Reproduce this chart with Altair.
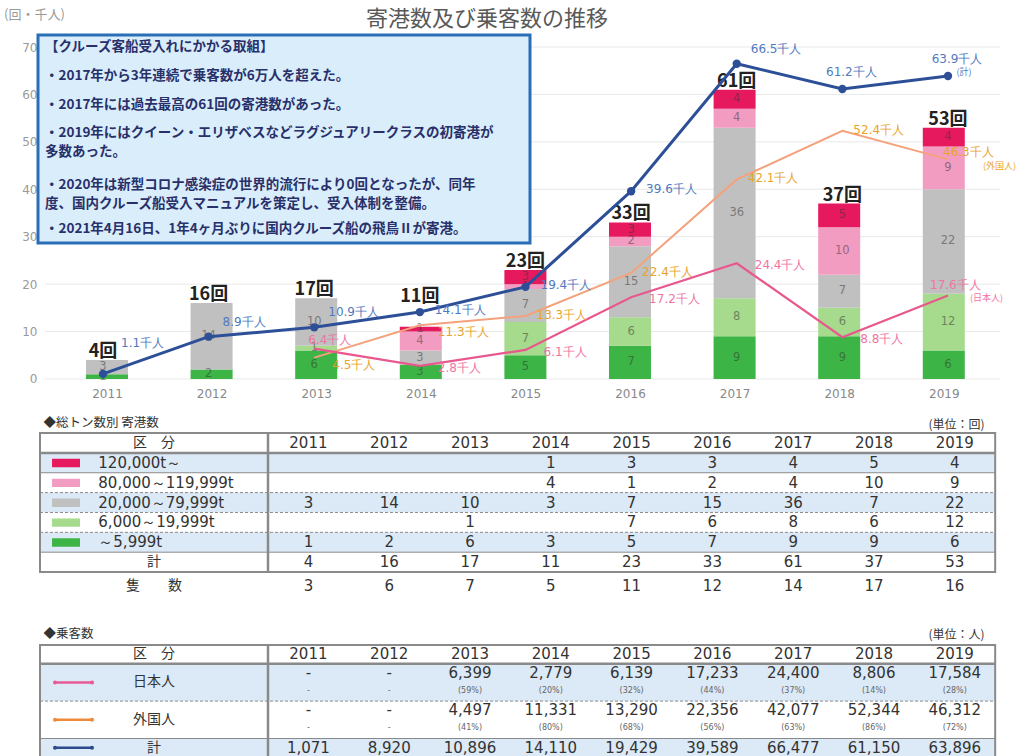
import altair as alt
import pandas as pd

# ---------------- data ----------------
YEARS = [2011, 2012, 2013, 2014, 2015, 2016, 2017, 2018, 2019]
Y_TICKS = [0, 10, 20, 30, 40, 50, 60, 70]

# tonnage classes, bottom of the stack first
CATEGORIES = ["～5,999t", "6,000～19,999t", "20,000～79,999t", "80,000～119,999t", "120,000t～"]
CAT_COLORS = ["#3cb546", "#a6da8c", "#c0c0c0", "#f39cc2", "#e7195e"]
COUNT_UNDER_6000 = [1, 2, 6, 3, 5, 7, 9, 9, 6]
COUNT_6000_19999 = [0, 0, 1, 0, 7, 6, 8, 6, 12]
COUNT_20000_79999 = [3, 14, 10, 3, 7, 15, 36, 7, 22]
COUNT_80000_119999 = [0, 0, 0, 4, 1, 2, 4, 10, 9]
COUNT_OVER_120000 = [0, 0, 0, 1, 3, 3, 4, 5, 4]
SHIPS = [3, 6, 7, 5, 11, 12, 14, 17, 16]

PAX_TOTAL = [1071, 8920, 10896, 14110, 19429, 39589, 66477, 61150, 63896]
PAX_JP = [None, None, 6399, 2779, 6139, 17233, 24400, 8806, 17584]
PAX_FOREIGN = [None, None, 4497, 11331, 13290, 22356, 42077, 52344, 46312]
PCT_JP = [None, None, 59, 20, 32, 44, 37, 14, 28]
PCT_FOREIGN = [None, None, 41, 80, 68, 56, 63, 86, 72]

LBL_TOTAL = ["1.1", "8.9", "10.9", "14.1", "19.4", "39.6", "66.5", "61.2", "63.9"]
LBL_JP = [None, None, "6.4", "2.8", "6.1", "17.2", "24.4", "8.8", "17.6"]
LBL_FOREIGN = [None, None, "4.5", "11.3", "13.3", "22.4", "42.1", "52.4", "46.3"]

NOTE_PARAS = [
    ["【クルーズ客船受入れにかかる取組】"],
    ["・2017年から3年連続で乗客数が6万人を超えた。"],
    ["・2017年には過去最高の61回の寄港数があった。"],
    ["・2019年にはクイーン・エリザベスなどラグジュアリークラスの初寄港が", "多数あった。"],
    ["・2020年は新型コロナ感染症の世界的流行により0回となったが、同年",
     "度、国内クルーズ船受入マニュアルを策定し、受入体制を整備。"],
    ["・2021年4月16日、1年4ヶ月ぶりに国内クルーズ船の飛鳥Ⅱが寄港。"],
]

# ---------------- styling / layout ----------------
W, H = 1030, 756
JP = "Noto Sans CJK JP"
NUM = "DejaVu Sans"
C_TOTAL, C_JP, C_FOR = "#2c4f98", "#e8588e", "#f4a27c"
L_TOTAL, L_JP, L_FOR = "#5079c0", "#ef74a3", "#e8a42a"
ROW_BLUE = "#dce9f6"
LINE_GREY = "#8a8a8a"

X_TOP = alt.Scale(domain=[2010.0249, 2019.7764], nice=False, zero=False)
Y_TOP = alt.Scale(domain=[-79.49, 79.91], nice=False, zero=False)
X_TAB = alt.Scale(domain=[-3.317, 9.431], nice=False, zero=False)
Y_T1 = alt.Scale(domain=[-21.80, 16.26], nice=False, zero=False, reverse=True)
Y_T2 = alt.Scale(domain=[-34.49, 5.936], nice=False, zero=False, reverse=True)
LABEL_COL = 2.822   # width of the label column, in year-column units
TAB_L, TAB_R = -LABEL_COL, 9.0
RAISED_TOTAL_LABEL_YEARS = [2014]   # count label lifted above the line, as in the reference


def xt(f="year"):
    return alt.X(f"{f}:Q", scale=X_TOP, axis=None)


def yt(f):
    return alt.Y(f"{f}:Q", scale=Y_TOP, axis=None)


def xs(f):
    return alt.X(f"{f}:Q", scale=X_TAB, axis=None)


def y1(f):
    return alt.Y(f"{f}:Q", scale=Y_T1, axis=None)


def y2(f):
    return alt.Y(f"{f}:Q", scale=Y_T2, axis=None)


ONE = pd.DataFrame({"k": [0]})
layers = []

# ---------------- top chart ----------------
COUNTS = [COUNT_UNDER_6000, COUNT_6000_19999, COUNT_20000_79999, COUNT_80000_119999, COUNT_OVER_120000]
bars_df = pd.DataFrame([
    {"year": y, "ord": k, "count": COUNTS[k][i], "color": CAT_COLORS[k]}
    for k in range(5) for i, y in enumerate(YEARS)
])
totals = [sum(c[i] for c in COUNTS) for i in range(len(YEARS))]

grid = alt.Chart(pd.DataFrame({"t": Y_TICKS})).mark_rule(color="#e9e9e9", strokeWidth=1).encode(
    y=yt("t"), x=alt.value(45), x2=alt.value(1000))
layers.append(grid)

bars = alt.Chart(bars_df).mark_bar(size=42).encode(
    x=alt.X("year:Q", scale=X_TOP, axis=alt.Axis(
        values=YEARS, format="d", offset=-377, domain=False, ticks=False, grid=False,
        labelPadding=9, labelColor="#888", labelFontSize=12, labelFont=NUM, title=None)),
    y=alt.Y("count:Q", stack="zero", scale=Y_TOP, axis=alt.Axis(
        values=Y_TICKS, offset=-42, domain=False, ticks=False, grid=False,
        labelPadding=5, labelColor="#9a9a9a", labelFontSize=12, labelFont=NUM, title=None)),
    color=alt.Color("color:N", scale=None),
    order=alt.Order("ord:Q", sort="ascending"),
)
layers.append(bars)

seg = alt.Chart(bars_df).transform_stack(
    stack="count", groupby=["year"], sort=[alt.SortField("ord", order="ascending")], as_=["s0", "s1"]
).transform_filter("datum.count > 0").transform_calculate(mid="(datum.s0 + datum.s1) / 2").mark_text(
    font=NUM, fontSize=11.5, color="#333", opacity=0.5).encode(x=xt(), y=yt("mid"), text="count:Q")
layers.append(seg)

tot_df = pd.DataFrame({"year": YEARS, "n": totals, "txt": [f"{t}回" for t in totals]})
raised = tot_df["year"].isin(RAISED_TOTAL_LABEL_YEARS)
layers.append(alt.Chart(tot_df[~raised]).mark_text(
    font=JP, fontSize=18, fontWeight="bold", color="#222", baseline="alphabetic", dy=-3
).encode(x=xt(), y=yt("n"), text="txt:N"))
layers.append(alt.Chart(tot_df[raised]).mark_text(
    font=JP, fontSize=18, fontWeight="bold", color="#222", baseline="alphabetic", dy=-25
).encode(x=xt(), y=yt("n"), text="txt:N"))


# lines
def series_df(vals, labels):
    rows = [{"year": y, "v": v / 1000, "label": f"{l}千人"}
            for y, v, l in zip(YEARS, vals, labels) if v is not None]
    return pd.DataFrame(rows)


jp_df = series_df(PAX_JP, LBL_JP)
fo_df = series_df(PAX_FOREIGN, LBL_FOREIGN)
to_df = series_df(PAX_TOTAL, LBL_TOTAL)

layers.append(alt.Chart(fo_df).mark_line(color=C_FOR, strokeWidth=2).encode(x=xt(), y=yt("v")))
layers.append(alt.Chart(jp_df).mark_line(color=C_JP, strokeWidth=2.2).encode(x=xt(), y=yt("v")))
layers.append(alt.Chart(to_df).mark_line(color=C_TOTAL, strokeWidth=3).encode(x=xt(), y=yt("v")))
layers.append(alt.Chart(to_df).mark_circle(color=C_TOTAL, size=70, opacity=1).encode(x=xt(), y=yt("v")))


def labels(df, years, color, dx, dy, align="left", size=12, field="label"):
    d = df[df["year"].isin(years)]
    return alt.Chart(d).mark_text(align=align, baseline="middle", dx=dx, dy=dy, fontSize=size,
                                  color=color, font=NUM).encode(x=xt(), y=yt("v"), text=f"{field}:N")


layers += [
    labels(to_df, [2011], L_TOTAL, 18, -31),
    labels(to_df, [2012, 2013, 2017], L_TOTAL, 14, -15),
    labels(to_df, [2014, 2015, 2016], L_TOTAL, 15, -2),
    labels(to_df, [2018, 2019], L_TOTAL, 9, -17, align="center"),
    labels(jp_df, [2013], L_JP, -6, -9),
    labels(jp_df, [2014, 2015, 2016, 2017, 2018], L_JP, 18, 2),
    labels(jp_df, [2019], L_JP, -18, -11),
    labels(fo_df, [2013, 2014], L_FOR, 18, 7),
    labels(fo_df, [2015, 2016, 2017, 2018], L_FOR, 11, -1),
    labels(fo_df, [2019], L_FOR, -5, -7),
]
layers.append(alt.Chart(to_df[to_df.year == 2019].assign(t="(計)")).mark_text(
    font=JP, fontSize=9, color=L_TOTAL, dx=16, dy=-4).encode(x=xt(), y=yt("v"), text="t:N"))
layers.append(alt.Chart(jp_df[jp_df.year == 2019].assign(t="(日本人)")).mark_text(
    font=JP, fontSize=9, color=L_JP, align="left", dx=22, dy=2).encode(x=xt(), y=yt("v"), text="t:N"))
layers.append(alt.Chart(fo_df[fo_df.year == 2019].assign(t="(外国人)")).mark_text(
    font=JP, fontSize=9, color=L_FOR, align="left", dx=35, dy=7).encode(x=xt(), y=yt("v"), text="t:N"))

# title and unit
layers.append(alt.Chart(ONE).mark_text(text="寄港数及び乗客数の推移", font=JP, fontSize=22, color="#595959",
                                       baseline="middle").encode(x=alt.value(487), y=alt.value(19)))
layers.append(alt.Chart(ONE).mark_text(text="(回・千人)", font=JP, fontSize=13, color="#9a9a9a", align="left",
                                       baseline="middle").encode(x=alt.value(4), y=alt.value(15)))

# note box
layers.append(alt.Chart(ONE).mark_rect(fill="#daedfb", stroke="#2a6fb5", strokeWidth=3).encode(
    x=alt.value(38), x2=alt.value(530), y=alt.value(35), y2=alt.value(243)))
PARA_Y = [47, 76, 105, 133, 185, 229]
for lines, py in zip(NOTE_PARAS, PARA_Y):
    layers.append(alt.Chart(ONE).mark_text(
        text=lines, font=JP, fontSize=13.5, fontWeight="bold", color="#28306a", align="left",
        baseline="middle", lineHeight=19).encode(x=alt.value(45), y=alt.value(py)))

# ---------------- table 1 : calls by gross tonnage ----------------
T1_ROWS = 7
row_fill1 = ["#ffffff", ROW_BLUE, "#ffffff", ROW_BLUE, "#ffffff", ROW_BLUE, "#ffffff"]
bg1 = pd.DataFrame({"x0": TAB_L, "x1": TAB_R, "r0": list(range(T1_ROWS)),
                    "r1": [r + 1 for r in range(T1_ROWS)], "fill": row_fill1})
layers.append(alt.Chart(bg1).mark_rect().encode(x=xs("x0"), x2="x1", y=y1("r0"), y2="r1",
                                                color=alt.Color("fill:N", scale=None)))

cat_rows = [{"r": 5 - k, "cat": CATEGORIES[k], "color": CAT_COLORS[k], "k": k} for k in range(5)]
cr = pd.DataFrame(cat_rows)
cr["s0"], cr["s1"] = -2.673, -2.327
cr["t0"], cr["t1"] = cr["r"] + 0.3, cr["r"] + 0.72
cr["ty"] = cr["r"] + 0.5
cr["tx"] = -2.10
layers.append(alt.Chart(cr).mark_rect().encode(x=xs("s0"), x2="s1", y=y1("t0"), y2="t1",
                                               color=alt.Color("color:N", scale=None)))
layers.append(alt.Chart(cr).mark_text(font=NUM, fontSize=15, color="#333", align="left").encode(
    x=xs("tx"), y=y1("ty"), text="cat:N"))

solid1 = pd.DataFrame({"y": [2, 6], "x0": TAB_L, "x1": TAB_R})
dash1 = pd.DataFrame({"y": [3, 4, 5], "x0": TAB_L, "x1": TAB_R})
head1 = pd.DataFrame({"y": [1], "x0": TAB_L, "x1": TAB_R})
layers.append(alt.Chart(solid1).mark_rule(color=LINE_GREY, strokeWidth=1).encode(x=xs("x0"), x2="x1", y=y1("y")))
layers.append(alt.Chart(dash1).mark_rule(color=LINE_GREY, strokeWidth=1, strokeDash=[3, 2]).encode(
    x=xs("x0"), x2="x1", y=y1("y")))
layers.append(alt.Chart(head1).mark_rule(color=LINE_GREY, strokeWidth=2.5).encode(x=xs("x0"), x2="x1", y=y1("y")))
layers.append(alt.Chart(pd.DataFrame({"x": [0], "a": [0], "b": [T1_ROWS]})).mark_rule(
    color=LINE_GREY, strokeWidth=2.5).encode(x=xs("x"), y=y1("a"), y2="b"))
layers.append(alt.Chart(pd.DataFrame({"x0": [TAB_L], "x1": [TAB_R], "a": [0], "b": [T1_ROWS]})).mark_rect(
    fillOpacity=0, stroke=LINE_GREY, strokeWidth=2).encode(x=xs("x0"), x2="x1", y=y1("a"), y2="b"))

cells1 = []
for i, y in enumerate(YEARS):
    cells1.append({"x": i + 0.5, "y": 0.5, "t": str(y)})
    for k in range(5):
        v = COUNTS[k][i]
        if v:
            cells1.append({"x": i + 0.5, "y": 5 - k + 0.5, "t": str(v)})
    cells1.append({"x": i + 0.5, "y": 6.5, "t": str(totals[i])})
    cells1.append({"x": i + 0.5, "y": 7.7, "t": str(SHIPS[i])})
layers.append(alt.Chart(pd.DataFrame(cells1)).mark_text(font=NUM, fontSize=15, color="#333").encode(
    x=xs("x"), y=y1("y"), text="t:N"))
lab1 = pd.DataFrame({"x": [-1.41, -1.41, -1.41], "y": [0.5, 6.5, 7.7], "t": ["区　分", "計", "隻　　数"]})
layers.append(alt.Chart(lab1).mark_text(font=JP, fontSize=14, color="#333").encode(
    x=xs("x"), y=y1("y"), text="t:N"))
layers.append(alt.Chart(pd.DataFrame({"x": [-2.78], "y": [-0.5], "t": ["◆総トン数別 寄港数"]})).mark_text(
    font=JP, fontSize=12.5, color="#333", align="left").encode(x=xs("x"), y=y1("y"), text="t:N"))
layers.append(alt.Chart(pd.DataFrame({"x": [8.87], "y": [-0.4], "t": ["(単位：回)"]})).mark_text(
    font=JP, fontSize=12, color="#333", align="right").encode(x=xs("x"), y=y1("y"), text="t:N"))

# ---------------- table 2 : passengers ----------------
bg2 = pd.DataFrame({"x0": TAB_L, "x1": TAB_R, "r0": [0, 1, 3, 5], "r1": [1, 3, 5, 6],
                    "fill": ["#ffffff", ROW_BLUE, "#ffffff", ROW_BLUE]})
layers.append(alt.Chart(bg2).mark_rect().encode(x=xs("x0"), x2="x1", y=y2("r0"), y2="r1",
                                                color=alt.Color("fill:N", scale=None)))
layers.append(alt.Chart(pd.DataFrame({"y": [1], "x0": TAB_L, "x1": TAB_R})).mark_rule(
    color=LINE_GREY, strokeWidth=2.5).encode(x=xs("x0"), x2="x1", y=y2("y")))
layers.append(alt.Chart(pd.DataFrame({"y": [5], "x0": TAB_L, "x1": TAB_R})).mark_rule(
    color=LINE_GREY, strokeWidth=1.2).encode(x=xs("x0"), x2="x1", y=y2("y")))
layers.append(alt.Chart(pd.DataFrame({"y": [3], "x0": TAB_L, "x1": TAB_R})).mark_rule(
    color=LINE_GREY, strokeWidth=1, strokeDash=[3, 2]).encode(x=xs("x0"), x2="x1", y=y2("y")))
layers.append(alt.Chart(pd.DataFrame({"x": [0], "a": [0], "b": [6]})).mark_rule(
    color=LINE_GREY, strokeWidth=2.5).encode(x=xs("x"), y=y2("a"), y2="b"))
layers.append(alt.Chart(pd.DataFrame({"x0": [TAB_L], "x1": [TAB_R], "a": [0], "b": [6]})).mark_rect(
    fillOpacity=0, stroke=LINE_GREY, strokeWidth=2).encode(x=xs("x0"), x2="x1", y=y2("a"), y2="b"))

sw = pd.DataFrame({"y": [2, 4, 5.5], "color": ["#e85a96", "#ef8a3a", "#2d4a8c"],
                   "x0": -2.636, "x1": -2.178})
layers.append(alt.Chart(sw).mark_rule(strokeWidth=2.5).encode(
    x=xs("x0"), x2="x1", y=y2("y"), color=alt.Color("color:N", scale=None)))
sw_pts = pd.concat([sw.assign(px=sw["x0"]), sw.assign(px=sw["x1"])])
layers.append(alt.Chart(sw_pts).mark_circle(size=16, opacity=1).encode(
    x=xs("px"), y=y2("y"), color=alt.Color("color:N", scale=None)))

lab2 = pd.DataFrame({"x": [-1.41, -1.41, -1.41, -1.41], "y": [0.5, 2, 4, 5.5],
                     "t": ["区　分", "日本人", "外国人", "計"]})
layers.append(alt.Chart(lab2).mark_text(font=JP, fontSize=14, color="#333").encode(
    x=xs("x"), y=y2("y"), text="t:N"))

cells2, pct2 = [], []
for i, y in enumerate(YEARS):
    cells2.append({"x": i + 0.5, "y": 0.5, "t": str(y)})
    for base, vals, pcts in [(1, PAX_JP, PCT_JP), (3, PAX_FOREIGN, PCT_FOREIGN)]:
        v, p = vals[i], pcts[i]
        cells2.append({"x": i + 0.5, "y": base + 0.5, "t": f"{v:,}" if v is not None else "-"})
        pct2.append({"x": i + 0.5, "y": base + 1.45, "t": f"({p}%)" if p is not None else "-"})
    cells2.append({"x": i + 0.5, "y": 5.5, "t": f"{PAX_TOTAL[i]:,}"})
layers.append(alt.Chart(pd.DataFrame(cells2)).mark_text(font=NUM, fontSize=15, color="#333").encode(
    x=xs("x"), y=y2("y"), text="t:N"))
layers.append(alt.Chart(pd.DataFrame(pct2)).mark_text(font=NUM, fontSize=8, color="#666").encode(
    x=xs("x"), y=y2("y"), text="t:N"))
layers.append(alt.Chart(pd.DataFrame({"x": [-2.78], "y": [-0.6], "t": ["◆乗客数"]})).mark_text(
    font=JP, fontSize=12.5, color="#333", align="left").encode(x=xs("x"), y=y2("y"), text="t:N"))
layers.append(alt.Chart(pd.DataFrame({"x": [8.87], "y": [-0.55], "t": ["(単位：人)"]})).mark_text(
    font=JP, fontSize=12, color="#333", align="right").encode(x=xs("x"), y=y2("y"), text="t:N"))

chart = alt.layer(*layers).resolve_scale(x="independent", y="independent").properties(
    width=W, height=H, autosize=alt.AutoSizeParams(type="none"), padding=0, background="white"
).configure_view(stroke=None)

chart.save("out.html", embed_options={"renderer": "svg", "actions": False})
